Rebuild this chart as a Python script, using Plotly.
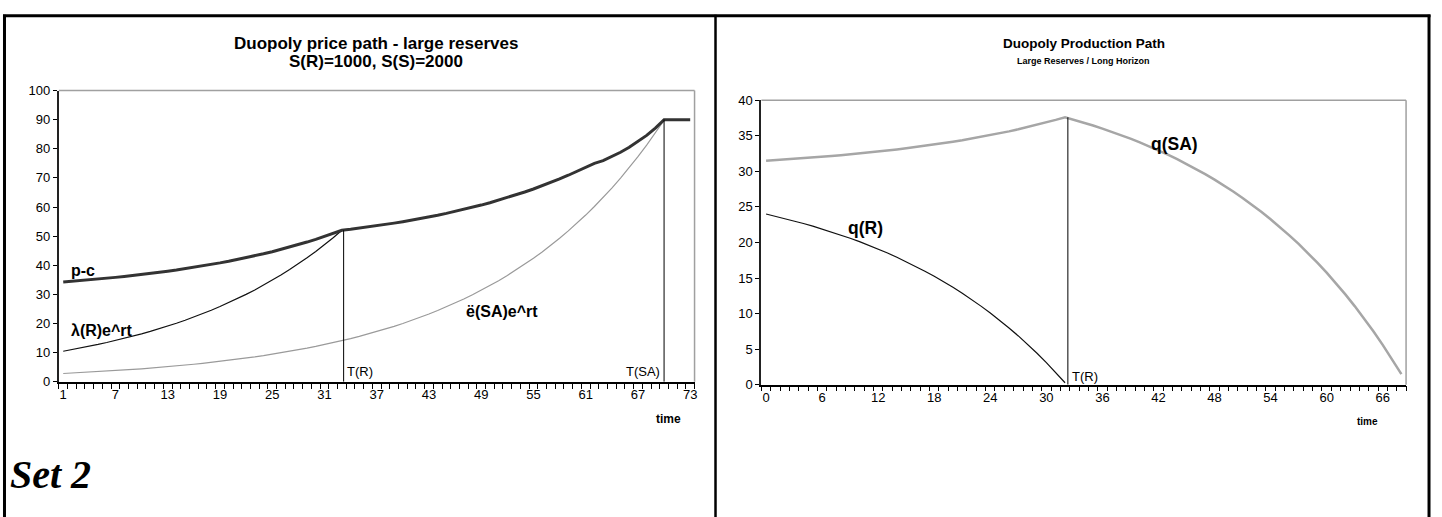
import plotly.graph_objects as go

W, H = 1442, 517

# ---------------- Left chart: Duopoly price path ----------------
t_price = list(range(1, 74))
pc = [34.28, 34.51, 34.75, 35.00, 35.27, 35.55, 35.85, 36.16, 36.48, 36.83,
      37.19, 37.57, 37.96, 38.38, 38.82, 39.28, 39.77, 40.28, 40.82, 41.38,
      41.98, 42.60, 43.26, 43.95, 44.67, 45.44, 46.24, 47.08, 47.97, 48.90,
      49.88, 50.91, 52.00, 52.35, 52.73, 53.13, 53.56, 54.00, 54.47, 54.96,
      55.47, 56.02, 56.59, 57.18, 57.81, 58.48, 59.17, 59.90, 60.67, 61.48,
      62.33, 63.23, 64.17, 65.15, 66.19, 67.28, 68.43, 69.64, 70.91, 72.24,
      73.64, 75.00, 75.90, 77.30, 78.80, 80.50, 82.40, 84.60, 87.10, 90.00,
      90.00, 90.00, 90.00]

t_lamR = list(range(1, 34))
lamR = [10.50, 11.04, 11.60, 12.20, 12.82, 13.48, 14.17, 14.90, 15.66, 16.47,
        17.31, 18.20, 19.13, 20.11, 21.15, 22.23, 23.37, 24.57, 25.83, 27.15,
        28.54, 30.01, 31.54, 33.16, 34.86, 36.65, 38.53, 40.50, 42.58, 44.76,
        47.06, 49.47, 52.01]

t_eSA = list(range(1, 71))
eSA = [2.85, 3.00, 3.15, 3.31, 3.48, 3.66, 3.85, 4.04, 4.25, 4.47,
       4.70, 4.94, 5.19, 5.46, 5.74, 6.03, 6.34, 6.67, 7.01, 7.37,
       7.75, 8.14, 8.56, 9.00, 9.46, 9.95, 10.46, 10.99, 11.56, 12.15,
       12.77, 13.43, 14.12, 14.84, 15.60, 16.40, 17.24, 18.13, 19.05, 20.03,
       21.06, 22.14, 23.27, 24.47, 25.72, 27.04, 28.43, 29.88, 31.42, 33.03,
       34.72, 36.50, 38.37, 40.34, 42.41, 44.58, 46.87, 49.27, 51.80, 54.45,
       57.24, 60.18, 63.26, 66.51, 69.92, 73.50, 77.27, 81.23, 85.40, 89.78]

TR_left, TR_left_top = 33.2, 52.0
TSA_left, TSA_left_top = 70, 90.0
price_xticks = list(range(1, 74, 6))
price_yticks = list(range(0, 101, 10))

# ---------------- Right chart: Duopoly production path ----------------
t_qSA = list(range(0, 69))
qSA = [31.50, 31.58, 31.67, 31.75, 31.85, 31.94, 32.04, 32.15, 32.26, 32.38,
       32.50, 32.63, 32.77, 32.92, 33.07, 33.23, 33.40, 33.57, 33.76, 33.95,
       34.16, 34.37, 34.60, 34.83, 35.08, 35.35, 35.62, 35.91, 36.22, 36.54,
       36.88, 37.23, 37.60, 37.23, 36.85, 36.44, 36.01, 35.57, 35.10, 34.60,
       34.08, 33.53, 32.96, 32.35, 31.72, 31.05, 30.35, 29.61, 28.83, 28.02,
       27.16, 26.26, 25.31, 24.31, 23.26, 22.16, 21.00, 19.79, 18.51, 17.16,
       15.75, 14.26, 12.70, 11.05, 9.32, 7.51, 5.60, 3.59, 1.48]

t_qR = list(range(0, 33))
qR = [24.00, 23.69, 23.37, 23.03, 22.67, 22.30, 21.90, 21.49, 21.05, 20.59,
      20.11, 19.60, 19.07, 18.51, 17.92, 17.30, 16.65, 15.96, 15.24, 14.49,
      13.69, 12.85, 11.97, 11.05, 10.08, 9.06, 7.98, 6.86, 5.67, 4.42,
      3.11, 1.73, 0.28]

TR_right, TR_right_top = 32.3, 37.6
prod_xticks = list(range(0, 67, 6))
prod_yticks = list(range(0, 41, 5))

FONT = "Arial, Liberation Sans, Helvetica, sans-serif"
SERIF = "Times New Roman, Liberation Serif, serif"


def px_x(p):
    return p / W


def px_y(p):
    return 1 - p / H


fig = go.Figure()

# left traces
fig.add_trace(go.Scatter(x=t_eSA, y=eSA, mode="lines",
                         line=dict(color="#9a9a9a", width=1.2), xaxis="x", yaxis="y"))
fig.add_trace(go.Scatter(x=t_lamR, y=lamR, mode="lines",
                         line=dict(color="#111111", width=1.2), xaxis="x", yaxis="y"))
fig.add_trace(go.Scatter(x=t_price, y=pc, mode="lines",
                         line=dict(color="#333333", width=3), xaxis="x", yaxis="y"))
fig.add_trace(go.Scatter(x=[TR_left, TR_left], y=[0, TR_left_top], mode="lines",
                         line=dict(color="black", width=1), xaxis="x", yaxis="y"))
fig.add_trace(go.Scatter(x=[TSA_left, TSA_left], y=[0, TSA_left_top], mode="lines",
                         line=dict(color="black", width=1), xaxis="x", yaxis="y"))

# right traces
fig.add_trace(go.Scatter(x=t_qSA, y=qSA, mode="lines",
                         line=dict(color="#a6a6a6", width=2.5), xaxis="x2", yaxis="y2"))
fig.add_trace(go.Scatter(x=t_qR, y=qR, mode="lines",
                         line=dict(color="#111111", width=1.2), xaxis="x2", yaxis="y2"))
fig.add_trace(go.Scatter(x=[TR_right, TR_right], y=[0, TR_right_top], mode="lines",
                         line=dict(color="black", width=1), xaxis="x2", yaxis="y2"))

tickfont = dict(family=FONT, size=13, color="black")

left_x = [59, 696]
left_y = [86, 386]
right_x = [763, 1409]
right_y = [96, 389]

fig.update_layout(
    width=W, height=H,
    margin=dict(l=0, r=0, t=0, b=0),
    paper_bgcolor="white", plot_bgcolor="white",
    showlegend=False,
    xaxis=dict(domain=[px_x(left_x[0]), px_x(left_x[1])], range=[0.5, 73.5],
               tickmode="array", tickvals=price_xticks, ticks="", ticklen=0,
               showgrid=False, zeroline=False, showline=True, linecolor="black",
               linewidth=1.5, tickfont=tickfont, anchor="y",
               minor=dict(tick0=0.5, dtick=1, ticks="outside", ticklen=5,
                          tickcolor="black", tickwidth=1, showgrid=False)),
    yaxis=dict(domain=[px_y(left_y[1]), px_y(left_y[0])], range=[0, 100],
               tickmode="array", tickvals=price_yticks, ticks="outside", ticklen=4,
               tickcolor="black", showgrid=False, zeroline=False, showline=True,
               linecolor="#222222", linewidth=2, tickfont=tickfont, anchor="x"),
    xaxis2=dict(domain=[px_x(right_x[0]), px_x(right_x[1])], range=[-0.5, 68.5],
                tickmode="array", tickvals=prod_xticks, ticks="", ticklen=0,
                showgrid=False, zeroline=False, showline=True, linecolor="black",
                linewidth=1.5, tickfont=tickfont, anchor="y2",
                minor=dict(tick0=-0.5, dtick=1, ticks="outside", ticklen=5,
                           tickcolor="black", tickwidth=1, showgrid=False)),
    yaxis2=dict(domain=[px_y(right_y[1]), px_y(right_y[0])], range=[0, 40],
                tickmode="array", tickvals=prod_yticks, ticks="outside", ticklen=4,
                tickcolor="black", showgrid=False, zeroline=False, showline=True,
                linecolor="#222222", linewidth=2, tickfont=tickfont, anchor="x2"),
)

shapes = []
# plot-area frames (gray, top and right)
for xr, yr in (("x domain", "y domain"), ("x2 domain", "y2 domain")):
    shapes.append(dict(type="line", xref=xr, yref=yr, x0=0, x1=1, y0=1, y1=1,
                       line=dict(color="#a0a0a0", width=1.5), layer="below"))
    shapes.append(dict(type="line", xref=xr, yref=yr, x0=1, x1=1, y0=0, y1=1,
                       line=dict(color="#a0a0a0", width=1.5), layer="below"))
# outer borders
shapes.append(dict(type="line", xref="paper", yref="paper", x0=px_x(4.5), x1=px_x(4.5),
                   y0=px_y(8), y1=px_y(530), line=dict(color="black", width=3)))
shapes.append(dict(type="line", xref="paper", yref="paper", x0=px_x(3), x1=px_x(1433.5),
                   y0=px_y(9), y1=px_y(9), line=dict(color="black", width=3)))
shapes.append(dict(type="line", xref="paper", yref="paper", x0=px_x(1432), x1=px_x(1432),
                   y0=px_y(8), y1=px_y(530), line=dict(color="black", width=3)))
shapes.append(dict(type="line", xref="paper", yref="paper", x0=px_x(717), x1=px_x(717),
                   y0=px_y(8), y1=px_y(530), line=dict(color="black", width=2.5)))
fig.update_layout(shapes=shapes)


def paper_text(text, x, y, size, family=FONT, xanchor="center"):
    return dict(text=text, xref="paper", yref="paper", x=px_x(x), y=px_y(y),
                xanchor=xanchor, yanchor="middle", showarrow=False,
                font=dict(family=family, size=size, color="black"))


def data_text(text, x, y, xr, yr, size, xanchor="left"):
    return dict(text=text, xref=xr, yref=yr, x=x, y=y, xanchor=xanchor,
                yanchor="middle", showarrow=False,
                font=dict(family=FONT, size=size, color="black"))


ann = [
    paper_text("<b>Duopoly price path - large reserves</b>", 377, 38, 17),
    paper_text("<b>S(R)=1000, S(S)=2000</b>", 377, 56, 17),
    paper_text("<b>Duopoly Production Path</b>", 1086, 38, 13.5),
    paper_text("<b>Large Reserves / Long Horizon</b>", 1086, 56, 9),
    paper_text("<b>time</b>", 670, 424, 12),
    paper_text("<b>time</b>", 1370, 427, 10),
    data_text("<b>p-c</b>", 1.7, 38.3, "x", "y", 16),
    data_text("<b>λ(R)e^rt</b>", 1.7, 17.6, "x", "y", 16),
    data_text("<b>ë(SA)e^rt</b>", 47, 24.1, "x", "y", 16),
    data_text("T(R)", TR_left + 0.2, 3.5, "x", "y", 13),
    data_text("T(SA)", TSA_left - 0.2, 3.5, "x", "y", 13, xanchor="right"),
    data_text("<b>q(SA)</b>", 41, 33.8, "x2", "y2", 17.5),
    data_text("<b>q(R)</b>", 8.6, 22.1, "x2", "y2", 17.5),
    data_text("T(R)", TR_right + 0.2, 1.2, "x2", "y2", 13),
    paper_text("<b><i>Set 2</i></b>", 8, 481, 40, family=SERIF, xanchor="left"),
]
fig.update_layout(annotations=ann)

fig.write_html("out.html")
